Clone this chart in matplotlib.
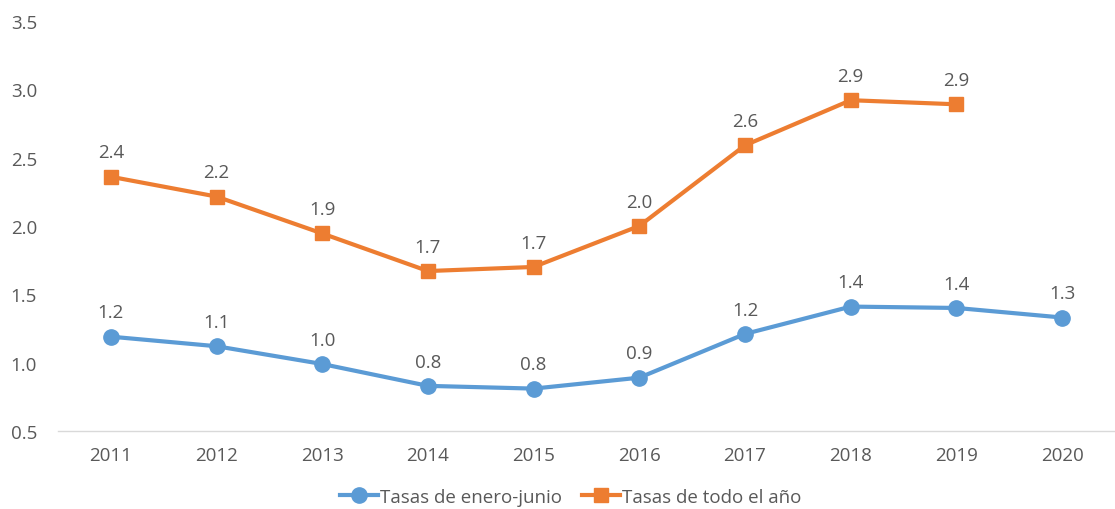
import matplotlib
matplotlib.use("Agg")
import matplotlib.pyplot as plt
import numpy as np

years = ["2011", "2012", "2013", "2014", "2015", "2016", "2017", "2018", "2019", "2020"]
enero_junio = [1.19, 1.12, 0.99, 0.83, 0.81, 0.89, 1.21, 1.41, 1.40, 1.33]
todo_anio = [2.36, 2.215, 1.945, 1.67, 1.70, 2.0, 2.59, 2.92, 2.89]
label_ej = "Tasas de enero-junio"
label_ta = "Tasas de todo el año"

plt.rcParams['font.family'] = ['Open Sans', 'DejaVu Sans']
txt = "#595959"
blue = "#5B9BD5"
orange = "#ED7D31"

fig = plt.figure(figsize=(11.15, 5.1), dpi=100)
ax = fig.add_axes([0.052, 0.153, 0.948, 0.804])

x1 = np.arange(len(enero_junio))
x2 = np.arange(len(todo_anio))
ax.plot(x1, enero_junio, color=blue, lw=3, marker='o', ms=11, label=label_ej)
ax.plot(x2, todo_anio, color=orange, lw=3, marker='s', ms=10, label=label_ta)

for xs, ys in ((x1, enero_junio), (x2, todo_anio)):
    for xi, yi in zip(xs, ys):
        ax.annotate(f"{yi:.1f}", (xi, yi), xytext=(0, 11), textcoords='offset points',
                    ha='center', va='bottom', fontsize=13.5, color=txt)

ax.set_xlim(-0.5, len(years) - 0.5)
ax.set_ylim(0.5, 3.5)
ax.set_yticks(np.arange(0.5, 3.51, 0.5))
ax.set_yticklabels([f"{v:.1f}" for v in np.arange(0.5, 3.51, 0.5)])
ax.set_xticks(x1)
ax.set_xticklabels(years)
ax.tick_params(axis='both', length=0, labelsize=13.5, colors=txt)
ax.tick_params(axis='x', pad=11)
ax.tick_params(axis='y', pad=15)
for s in ['top', 'right', 'left']:
    ax.spines[s].set_visible(False)
ax.spines['bottom'].set_color('#D9D9D9')
ax.spines['bottom'].set_linewidth(1)

leg = ax.legend(loc='center', bbox_to_anchor=(0.485, -0.16), ncol=2, frameon=False,
                fontsize=13.5, handlelength=2.0, handletextpad=0.1, columnspacing=1.1)
for t in leg.get_texts():
    t.set_color(txt)

fig.savefig("out.png", dpi=100)
